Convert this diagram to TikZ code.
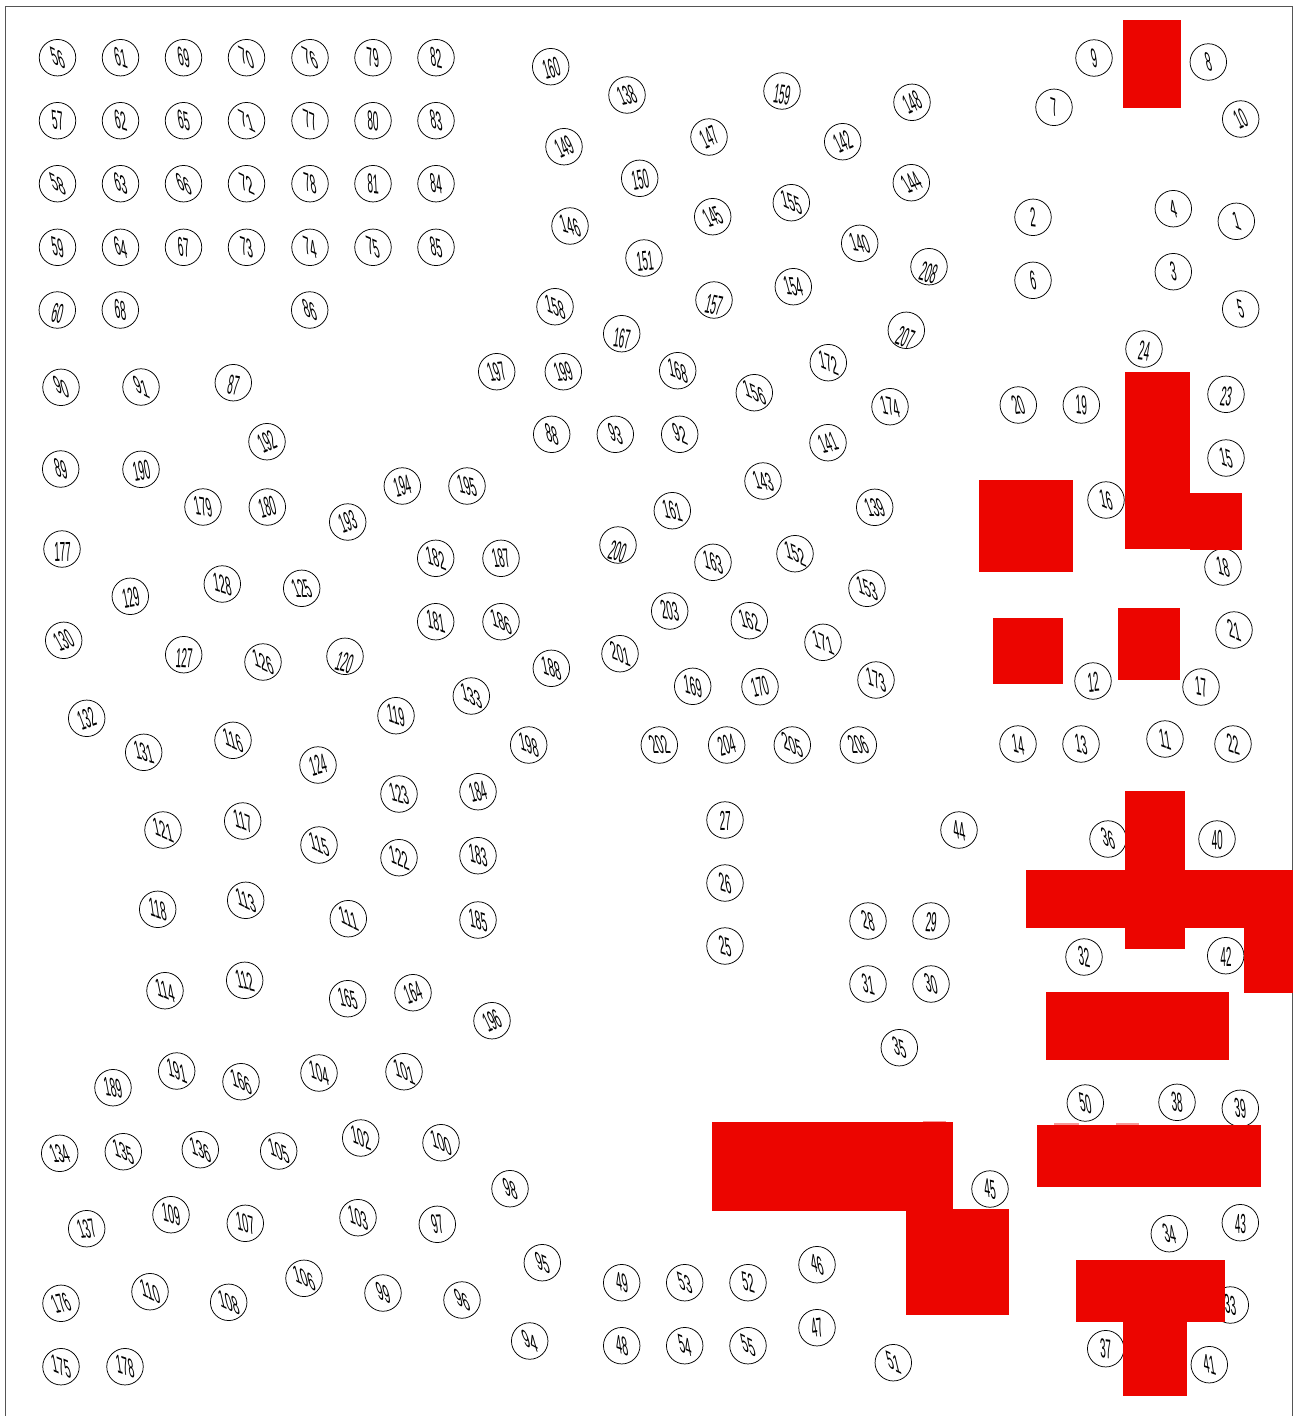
\documentclass[tikz,border=0pt]{standalone}
\usepackage{fontspec}
\usepackage{graphicx}
\setmainfont{Liberation Sans}
\definecolor{blockred}{HTML}{EC0500}
\definecolor{palered}{HTML}{F59A98}
\definecolor{framegray}{HTML}{555555}
\newcommand{\squeezed}[3]{\makebox[0pt][c]{\smash{\raisebox{\dimexpr-0.5\height+0.5\depth\relax}{\rotatebox{#3}{\rotatebox{#2}{\scalebox{0.36}[1]{\rotatebox{-#2}{#1}}}}}}}}
\tikzset{
  x=1pt,y=-1pt,
  stop/.style={circle,draw=black,line width=0.75pt,fill=white,minimum size=36.5pt,inner sep=0pt,font=\fontsize{27.5}{27.5}\selectfont,text=black},
  block/.style={fill=blockred,draw=none},
  sliver/.style={fill=palered,draw=none},
  frameline/.style={draw=framegray,line width=1pt}
}
\begin{document}
\begin{tikzpicture}
\useasboundingbox (0,0) rectangle (1294,1416);
\draw[frameline] (5,1416) -- (5,6) -- (1292,6) -- (1292,1416);
\foreach \i/\x/\y/\p/\r in {
56/57.5/57.7/25/0,61/120.5/57.7/18/0,69/183.5/57.7/15/0,70/246.5/57.7/28/0,76/310/57.7/30/0,79/373/57.7/12/0,82/436/57.7/10/0,
57/57.5/120.7/10/0,62/120.5/120.7/15/0,65/183.5/120.7/15/0,71/246.5/120.7/30/0,77/310/120.7/20/0,80/373/120.7/5/0,83/436/120.7/15/0,
58/57.5/183.7/30/0,63/120.5/183.7/20/0,66/183.5/183.7/30/0,72/246.5/183.7/25/0,78/310/183.7/15/0,81/373/183.7/5/0,84/436/183.7/12/0,
59/57.5/247.3/15/0,64/120.5/247.3/20/0,67/183.5/247.3/10/0,73/246.5/247.3/15/0,74/310/247.3/20/0,75/373/247.3/20/0,85/436/247.3/15/0,
60/57.3/310/-15/0,68/120.3/310/10/0,86/309.7/310/25/0,
160/550.7/66.7/-5/20,138/627/95/5/20,149/564/146.7/0/25,150/639.7/178.3/-5/15,146/570/226/20/5,151/644/258/-10/15,158/555/306.7/22/0,167/621.7/333.7/-15/5,
159/782/91/-10/0,148/912/102.3/0/25,147/709/137/0/25,142/842.7/141.7/0/25,144/911.3/182.7/5/28,145/712.7/216.7/5/25,155/791.3/202.7/25/0,140/859.7/243.3/15/10,208/929/266.7/-20/0,157/714/300/-15/0,154/793.3/286.7/10/10,207/906.3/330.3/-25/0,172/828.3/362.7/20/0,156/754.3/392.7/30/0,174/890/406.7/15/5,
90/61/387.3/30/0,91/141/387/30/0,87/233.3/382.7/-12/0,192/267/441.7/0/25,89/60.7/469/20/0,190/141/469.3/-5/15,179/203/507/10/5,180/267.3/507/0/15,193/347.7/522/0/20,177/62/549/-10/10,129/130.3/596.3/-5/15,128/222.3/584/15/0,125/301.7/588.3/10/15,130/63.7/640.3/5/25,127/183.7/654.7/-10/5,126/263/662/25/0,120/345/656.3/-20/0,
197/496.7/371.7/5/15,199/563.3/371.7/5/15,168/677.7/370.7/20/0,88/551.7/434.3/20/0,93/615.3/434.3/25/0,92/679.7/434.3/25/0,194/402.3/486/0/15,195/467/486/15/5,161/672.3/510.7/15/5,200/618/545/-20/0,182/435.7/558.3/20/0,187/501/558.3/5/10,163/713/562.3/20/0,203/669.7/611/10/5,181/435.7/621.7/15/0,186/501/621.7/25/0,188/551.3/668.3/20/0,201/620/653.7/20/0,133/471.3/696/25/0,169/692.7/686.3/15/0,119/396/715.7/15/0,198/528.7/745/20/0,202/659.3/745/10/15,
141/828/442.7/5/20,143/763/481/15/10,139/874.7/507.3/10/15,152/795/553.7/25/0,153/867/588.3/25/0,162/749.3/620.7/20/5,171/823/642.3/25/0,173/876/680/20/0,170/760/686.7/0/15,204/726.7/745/0/15,205/792.3/745/25/0,206/858.3/745/10/15,
132/86.7/718.3/0/20,131/143.7/752.3/15/5,116/233/740.3/25/0,124/318/765/0/15,123/399/794/15/5,184/478/791.7/0/15,121/163/830/22/0,117/242.7/821/20/0,115/319/845/25/0,122/399/857.7/20/0,183/478/855.7/15/0,118/157.7/909.3/15/0,113/245.7/900.3/25/0,111/348.3/918.7/25/0,185/478/920/15/0,114/165/990.7/22/0,112/244.7/980.3/15/5,165/347.7/998.7/15/5,164/413/992.7/0/20,196/492/1020.7/0/25,
189/113/1087.7/10/5,191/176.7/1071/20/0,166/241/1081.7/25/0,104/319/1073/20/0,101/404/1071.7/25/0,134/59.7/1153.3/10/15,135/123.3/1151.7/25/0,136/200.3/1149.7/25/0,105/278.7/1151/25/0,102/360.7/1138/20/0,100/441/1142.7/25/0,98/510/1188.7/25/0,137/86.7/1228.7/5/15,109/171/1214.7/15/0,107/245.3/1223.3/15/0,103/358/1217.7/20/0,97/437.3/1224.3/5/10,176/61/1303.3/5/20,110/150/1291.7/25/0,108/228.7/1302.3/25/0,106/304/1278.3/28/0,99/383/1293/25/0,96/462/1300/30/0,175/61/1366.7/20/0,178/125/1366.7/15/0,
95/542.3/1262.7/25/0,94/529.7/1341/30/0,49/621.7/1282.7/15/0,53/684.7/1282.7/25/0,52/748/1282.7/15/0,46/817/1264.7/20/0,48/621.7/1345.7/15/0,54/684.7/1345.7/20/0,55/748/1345.7/25/0,47/817/1327.7/0/10,51/893.3/1362.7/25/0,35/899.3/1047.7/22/0,
9/1094/58/15/0,8/1208.3/62/20/0,7/1054/107.3/15/0,10/1240.7/119/0/25,2/1033/217.3/5/0,4/1173.3/208.7/25/0,1/1236.3/221.3/28/0,6/1033/280.3/15/0,3/1173.3/271.7/15/0,5/1240.7/309/20/0,24/1144/349/-10/0,20/1018.3/405/5/15,19/1081.3/405/5/0,23/1226/394.3/-10/0,
16/1106/500/20/0,15/1226/458/20/0,18/1223/567/20/0,21/1234/630/20/0,12/1093/681/-5/10,17/1201/687/10/0,14/1018/744/15/0,13/1081/744/15/0,11/1165/739/15/0,22/1233/744/15/0,27/725/820/-5/5,26/725/883/15/0,25/725/946/15/0,44/959/830/15/0,28/868/921/20/0,29/931/921/-5/0,31/868/984/15/0,30/931/984/20/0,45/990/1189/10/0,
36/1108/839/22/0,40/1217/839/-5/5,32/1084/957/10/0,42/1225.7/955.7/-5/5,50/1085.3/1103/15/0,38/1177/1102.3/8/0,39/1240.3/1108.3/10/0,34/1169.3/1233.7/15/5,43/1240.3/1222.7/-5/5,33/1230.3/1305/10/0,37/1105.7/1348.7/5/0,41/1209.3/1364.7/15/0
}{
  \pgfmathsetmacro{\pp}{0.85*\p}
  \node[stop] (n\i) at (\x,\y) {\squeezed{\i}{\pp}{\r}};
}
\fill[sliver] (923,1121) rectangle (946,1123);
\fill[sliver] (1054,1123) rectangle (1079,1126);
\fill[sliver] (1116,1123) rectangle (1139,1126);
\fill[block] (1123,20) rectangle (1181,108);
\fill[block] (1125,372) rectangle (1190,549);
\fill[block] (1190,493) rectangle (1242,550);
\fill[block] (979,480) rectangle (1073,572);
\fill[block] (993,618) rectangle (1063,684);
\fill[block] (1118,608) rectangle (1180,680);
\fill[block] (1125,791) rectangle (1185,949);
\fill[block] (1026,870) rectangle (1293,928);
\fill[block] (1244,870) rectangle (1293,993);
\fill[block] (1046,992) rectangle (1229,1060);
\fill[block] (1037,1125) rectangle (1261,1187);
\fill[block] (712,1122) rectangle (953,1211);
\fill[block] (906,1209) rectangle (1009,1315);
\fill[block] (1076,1260) rectangle (1225,1322);
\fill[block] (1123,1322) rectangle (1187,1396);
\end{tikzpicture}
\end{document}
